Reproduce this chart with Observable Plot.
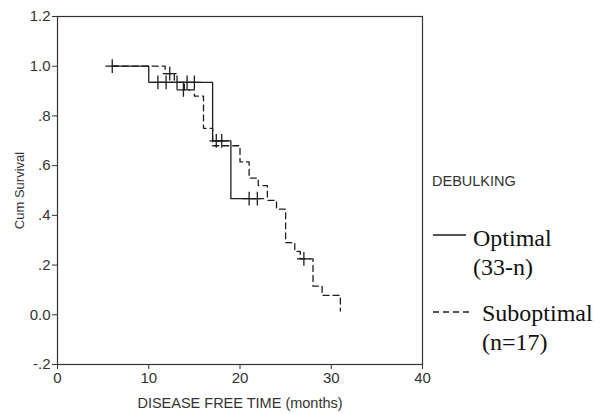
<!DOCTYPE html>
<html>
<head>
<meta charset="utf-8">
<script src="https://cdn.jsdelivr.net/npm/d3@7"></script>
<script src="https://cdn.jsdelivr.net/npm/@observablehq/plot@0.6"></script>
<style>
  html, body { margin: 0; padding: 0; background: #fff; }
  #chart { position: relative; width: 600px; height: 414px; }
</style>
</head>
<body>
<div id="chart"></div>
<script>
// Optimal (solid) Kaplan–Meier steps
const optTime = [6, 10, 17, 19, 22.2];
const optSurv = [1.0, 0.935, 0.70, 0.467, 0.467];
// Optimal censor marks
const optCensTime = [6, 11.0, 11.9, 13.1, 14.2, 15.0, 17.4, 18.0, 21.0, 21.9];
const optCensSurv = [1.0, 0.935, 0.935, 0.935, 0.935, 0.935, 0.70, 0.70, 0.467, 0.467];

// Suboptimal (dashed) steps
const subTime = [6, 11.8, 12.8, 13.9, 15.0, 16.0, 17.0, 20.0, 21.0, 22.0, 23.0, 24.0, 25.0, 26.0, 26.6, 28.0, 29.0, 31.0];
const subSurv = [1.0, 0.97, 0.935, 0.905, 0.88, 0.75, 0.68, 0.615, 0.55, 0.52, 0.46, 0.425, 0.29, 0.255, 0.225, 0.115, 0.078, 0.015];
const subCensTime = [12.3, 13.8, 27.0];
const subCensSurv = [0.97, 0.905, 0.225];

// Axes
const yTicks = [-0.2, 0, 0.2, 0.4, 0.6, 0.8, 1.0, 1.2];
const yTickLabels = ["-.2", "0.0", ".2", ".4", ".6", ".8", "1.0", "1.2"];
const xTicks = [0, 10, 20, 30, 40];

const legendTitle = "DEBULKING";
const legendOpt = ["Optimal", "(33-n)"];
const legendSub = ["Suboptimal", "(n=17)"];

const opt = optTime.map((t, i) => ({t, s: optSurv[i]}));
const sub = subTime.map((t, i) => ({t, s: subSurv[i]}));
const optC = optCensTime.map((t, i) => ({t, s: optCensSurv[i]}));
const subC = subCensTime.map((t, i) => ({t, s: subCensSurv[i]}));

const ink = "#1e1e1e";

const plot = Plot.plot({
  width: 600,
  height: 414,
  marginLeft: 57,
  marginRight: 178,
  marginTop: 16,
  marginBottom: 50,
  style: {fontFamily: "Arial, 'Liberation Sans', sans-serif", fontSize: "15px", color: "#333", background: "#fff"},
  x: {domain: [0, 40]},
  y: {domain: [-0.2, 1.2]},
  marks: [
    Plot.frame({stroke: "#333", strokeWidth: 1.2}),
    Plot.axisY({
      ticks: yTicks,
      tickFormat: d => yTickLabels[yTicks.findIndex(v => Math.abs(v - d) < 1e-9)],
      tickSize: 5,
      tickPadding: 2,
      label: "Cum Survival",
      labelAnchor: "center",
      labelArrow: "none",
      labelOffset: 43
    }),
    Plot.axisX({
      ticks: xTicks,
      tickSize: 5,
      tickPadding: 3,
      label: "DISEASE FREE TIME (months)",
      labelAnchor: "center",
      labelArrow: "none",
      labelOffset: 43
    }),
    Plot.line(opt, {x: "t", y: "s", curve: "step-after", stroke: ink, strokeWidth: 1.3}),
    Plot.line(sub, {x: "t", y: "s", curve: "step-after", stroke: ink, strokeWidth: 1.3, strokeDasharray: "6,4"}),
    Plot.dot(optC, {x: "t", y: "s", symbol: "plus", r: 4.5, stroke: ink, strokeWidth: 1.3}),
    Plot.dot(subC, {x: "t", y: "s", symbol: "plus", r: 4.5, stroke: ink, strokeWidth: 1.3})
  ]
});

document.getElementById("chart").appendChild(plot);

const svg = d3.select(plot);
svg.selectAll("g[aria-label='y-axis tick label'], g[aria-label='x-axis tick label']")
  .attr("font-size", null).style("font-size", "15px");
svg.selectAll("g[aria-label='x-axis label']").attr("font-size", null).style("font-size", "14.5px");
svg.selectAll("g[aria-label='y-axis label']").attr("font-size", null).style("font-size", "13px");

// Legend (drawn on the right of the plot)
const lg = svg.append("g").attr("text-anchor", "start");
lg.append("text").attr("x", 432).attr("y", 186).attr("text-anchor", "start")
  .style("font-family", "Arial, 'Liberation Sans', sans-serif").style("font-size", "14.5px").attr("fill", "#333")
  .text(legendTitle);
lg.append("line").attr("x1", 433).attr("x2", 466).attr("y1", 235).attr("y2", 235)
  .attr("stroke", ink).attr("stroke-width", 1.3);
lg.append("line").attr("x1", 433).attr("x2", 469).attr("y1", 312).attr("y2", 312)
  .attr("stroke", ink).attr("stroke-width", 1.3).attr("stroke-dasharray", "6,4");
const serif = "'Times New Roman', 'Liberation Serif', serif";
[[legendOpt[0], 473, 246], [legendOpt[1], 473, 275], [legendSub[0], 482, 321], [legendSub[1], 482, 350]].forEach(([t, x, y]) => {
  lg.append("text").attr("x", x).attr("y", y).attr("text-anchor", "start")
    .style("font-family", serif).style("font-size", "24px").attr("fill", "#111").text(t);
});
</script>
</body>
</html>
